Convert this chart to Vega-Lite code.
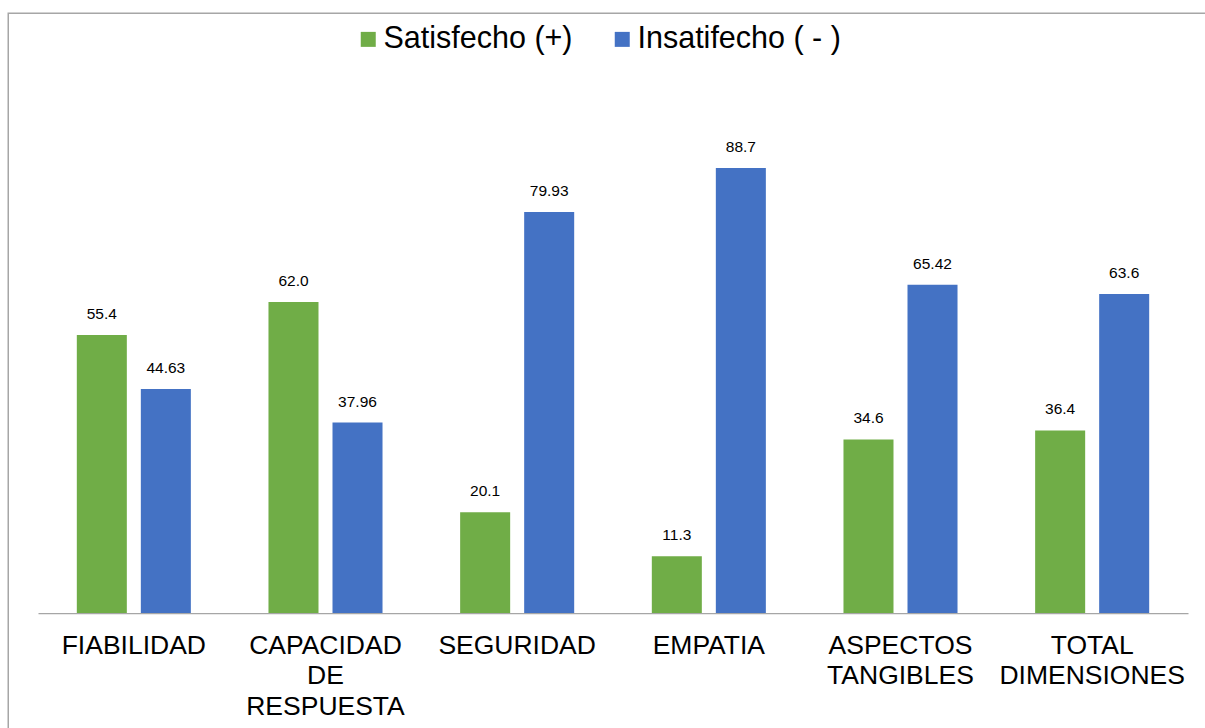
{
  "$schema": "https://vega.github.io/schema/vega-lite/v6.json",
  "autosize": {"type": "none"},
  "padding": {"left": 8.25, "top": 13.25, "right": 0, "bottom": 0},
  "width": 1197.5,
  "height": 715.5,
  "background": "white",
  "config": {
    "font": "Liberation Sans",
    "view": {"stroke": "#A6A6A6", "strokeWidth": 1.5}
  },
  "data": {
    "values": [
      {"dimension": "FIABILIDAD", "series": "Satisfecho (+)", "value": 55.4, "label": "55.4"},
      {"dimension": "FIABILIDAD", "series": "Insatifecho ( - )", "value": 44.63, "label": "44.63"},
      {"dimension": "CAPACIDAD\nDE\nRESPUESTA", "series": "Satisfecho (+)", "value": 62.0, "label": "62.0"},
      {"dimension": "CAPACIDAD\nDE\nRESPUESTA", "series": "Insatifecho ( - )", "value": 37.96, "label": "37.96"},
      {"dimension": "SEGURIDAD", "series": "Satisfecho (+)", "value": 20.1, "label": "20.1"},
      {"dimension": "SEGURIDAD", "series": "Insatifecho ( - )", "value": 79.93, "label": "79.93"},
      {"dimension": "EMPATIA", "series": "Satisfecho (+)", "value": 11.3, "label": "11.3"},
      {"dimension": "EMPATIA", "series": "Insatifecho ( - )", "value": 88.7, "label": "88.7"},
      {"dimension": "ASPECTOS\nTANGIBLES", "series": "Satisfecho (+)", "value": 34.6, "label": "34.6"},
      {"dimension": "ASPECTOS\nTANGIBLES", "series": "Insatifecho ( - )", "value": 65.42, "label": "65.42"},
      {"dimension": "TOTAL\nDIMENSIONES", "series": "Satisfecho (+)", "value": 36.4, "label": "36.4"},
      {"dimension": "TOTAL\nDIMENSIONES", "series": "Insatifecho ( - )", "value": 63.6, "label": "63.6"}
    ]
  },
  "encoding": {
    "x": {
      "field": "dimension",
      "type": "nominal",
      "sort": ["FIABILIDAD", "CAPACIDAD\nDE\nRESPUESTA", "SEGURIDAD", "EMPATIA", "ASPECTOS\nTANGIBLES", "TOTAL\nDIMENSIONES"],
      "scale": {"range": [29.75, 1179.75], "paddingInner": 0.405, "paddingOuter": 0.2025},
      "axis": {
        "title": null,
        "orient": "bottom",
        "offset": -115.75,
        "domainColor": "#A6A6A6",
        "domainWidth": 1.25,
        "ticks": false,
        "labelAngle": 0,
        "labelFontSize": 26.5,
        "labelColor": "#000000",
        "labelPadding": 19,
        "labelLineHeight": 30.5,
        "labelLimit": 0,
        "labelExpr": "split(datum.label, '\\n')"
      }
    },
    "xOffset": {
      "field": "series",
      "type": "nominal",
      "sort": ["Satisfecho (+)", "Insatifecho ( - )"],
      "scale": {"paddingInner": 0.21875, "paddingOuter": 0}
    },
    "y": {
      "field": "value",
      "type": "quantitative",
      "scale": {"domain": [0, 100], "range": [599.75, 98.05]},
      "axis": null
    }
  },
  "layer": [
    {
      "mark": {"type": "bar"},
      "encoding": {
        "color": {
          "field": "series",
          "type": "nominal",
          "scale": {"domain": ["Satisfecho (+)", "Insatifecho ( - )"], "range": ["#70AD47", "#4472C4"]},
          "legend": {
            "title": null,
            "orient": "none",
            "legendX": 344.75,
            "legendY": 10.75,
            "direction": "horizontal",
            "padding": 0,
            "symbolType": "square",
            "symbolSize": 225,
            "symbolStrokeWidth": 0,
            "symbolOpacity": 1,
            "labelFontSize": 30.5,
            "labelColor": "#000000",
            "labelOffset": 0,
            "labelLimit": 0,
            "columnPadding": 34
          }
        }
      }
    },
    {
      "mark": {"type": "text", "baseline": "alphabetic", "dy": -16, "fontSize": 15.5, "color": "#000000"},
      "encoding": {
        "text": {"field": "label", "type": "nominal"}
      }
    }
  ]
}
